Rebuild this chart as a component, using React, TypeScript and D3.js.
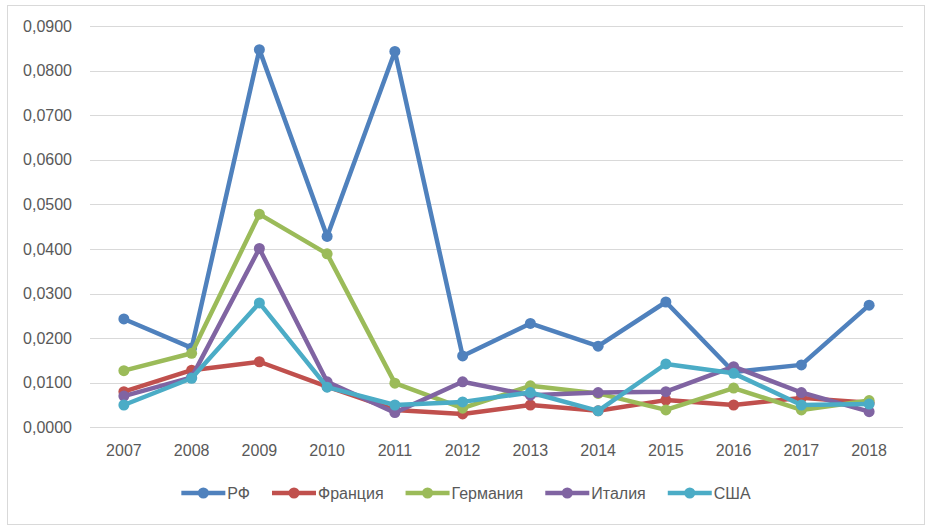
import React, { useRef, useEffect } from 'react';
import * as d3 from 'd3';

// Data
const years = ['2007', '2008', '2009', '2010', '2011', '2012', '2013', '2014', '2015', '2016', '2017', '2018'];
const rf = [0.0243, 0.0178, 0.0847, 0.0428, 0.0843, 0.016, 0.0233, 0.0182, 0.0281, 0.0124, 0.014, 0.0274];
const france = [0.008, 0.0128, 0.0147, 0.0091, 0.0039, 0.003, 0.005, 0.0037, 0.0061, 0.005, 0.0066, 0.0055];
const germany = [0.0127, 0.0166, 0.0478, 0.0389, 0.0099, 0.0043, 0.0093, 0.0076, 0.0039, 0.0088, 0.0039, 0.006];
const italy = [0.007, 0.0112, 0.0401, 0.0102, 0.0033, 0.0102, 0.0072, 0.0078, 0.008, 0.0136, 0.0078, 0.0035];
const usa = [0.005, 0.011, 0.0279, 0.009, 0.005, 0.0057, 0.0078, 0.0037, 0.0142, 0.0121, 0.005, 0.0052];
const yTicks = [0, 0.01, 0.02, 0.03, 0.04, 0.05, 0.06, 0.07, 0.08, 0.09];

const series = [
  { name: 'РФ', values: rf, color: '#4f81bd' },
  { name: 'Франция', values: france, color: '#c0504d' },
  { name: 'Германия', values: germany, color: '#9bbb59' },
  { name: 'Италия', values: italy, color: '#8064a2' },
  { name: 'США', values: usa, color: '#4bacc6' },
];

const width = 931;
const height = 528;
const plot = { left: 90, right: 903, top: 26, bottom: 427.3 };
const font = '"Liberation Sans", Arial, sans-serif';
const fontSize = 16;
const textColor = '#595959';

export default function App() {
  const svgRef = useRef(null);

  useEffect(() => {
    const svg = d3.select(svgRef.current);
    svg.selectAll('*').remove();

    // frame
    svg
      .append('rect')
      .attr('x', 7.5)
      .attr('y', 5.5)
      .attr('width', 917)
      .attr('height', 519)
      .attr('fill', '#fff')
      .attr('stroke', '#d9d9d9');

    // Scales
    const xScale = d3.scaleBand().domain(years).range([plot.left, plot.right]);
    const yScale = d3.scaleLinear().domain([0, 0.09]).range([plot.bottom, plot.top]);
    const cx = (i: number) => xScale(years[i])! + xScale.bandwidth() / 2;

    // grid
    svg
      .append('g')
      .selectAll('line')
      .data(yTicks)
      .join('line')
      .attr('x1', plot.left)
      .attr('x2', plot.right)
      .attr('y1', (d) => Math.round(yScale(d)) + 0.5)
      .attr('y2', (d) => Math.round(yScale(d)) + 0.5)
      .attr('stroke', '#d9d9d9')
      .attr('stroke-width', 1);

    // y labels
    const fmt = (d: number) => d.toFixed(4).replace('.', ',');
    svg
      .append('g')
      .selectAll('text')
      .data(yTicks)
      .join('text')
      .attr('x', 72)
      .attr('y', (d) => yScale(d))
      .attr('dy', '0.35em')
      .attr('text-anchor', 'end')
      .attr('fill', textColor)
      .style('font-family', font)
      .style('font-size', `${fontSize}px`)
      .text(fmt);

    // x labels
    svg
      .append('g')
      .selectAll('text')
      .data(years)
      .join('text')
      .attr('x', (d) => xScale(d)! + xScale.bandwidth() / 2)
      .attr('y', 450)
      .attr('dy', '0.35em')
      .attr('text-anchor', 'middle')
      .attr('fill', textColor)
      .style('font-family', font)
      .style('font-size', `${fontSize}px`)
      .text((d) => d);

    // lines
    const lineGenerator = d3
      .line<number>()
      .x((d, i) => cx(i))
      .y((d) => yScale(d));

    series.forEach((s) => {
      const g = svg.append('g');
      g.append('path')
        .datum(s.values)
        .attr('d', lineGenerator)
        .attr('fill', 'none')
        .attr('stroke', s.color)
        .attr('stroke-width', 4.5)
        .attr('stroke-linejoin', 'round');
      g.selectAll('circle')
        .data(s.values)
        .join('circle')
        .attr('cx', (d, i) => cx(i))
        .attr('cy', (d) => yScale(d))
        .attr('r', 5.5)
        .attr('fill', s.color);
    });

    // legend
    const ctx = document.createElement('canvas').getContext('2d')!;
    ctx.font = `${fontSize}px ${font}`;
    const lineLen = 44;
    const gapText = 2;
    const gapItem = 22;
    const widths = series.map((s) => lineLen + gapText + ctx.measureText(s.name).width);
    const total = d3.sum(widths) + gapItem * (series.length - 1);
    let lx = (7 + 925) / 2 - total / 2;
    const ly = 493;
    series.forEach((s, i) => {
      const g = svg.append('g').attr('transform', `translate(${lx},${ly})`);
      g.append('line')
        .attr('x1', 0)
        .attr('x2', lineLen)
        .attr('stroke', s.color)
        .attr('stroke-width', 4.5);
      g.append('circle').attr('cx', lineLen / 2).attr('r', 5.5).attr('fill', s.color);
      g.append('text')
        .attr('x', lineLen + gapText)
        .attr('dy', '0.35em')
        .attr('fill', textColor)
        .style('font-family', font)
        .style('font-size', `${fontSize}px`)
        .text(s.name);
      lx += widths[i] + gapItem;
    });
  }, []);

  return (
    <div style={{ position: 'absolute', left: 0, top: 0, width, height, background: '#fff' }}>
      <svg ref={svgRef} width={width} height={height} />
    </div>
  );
}
